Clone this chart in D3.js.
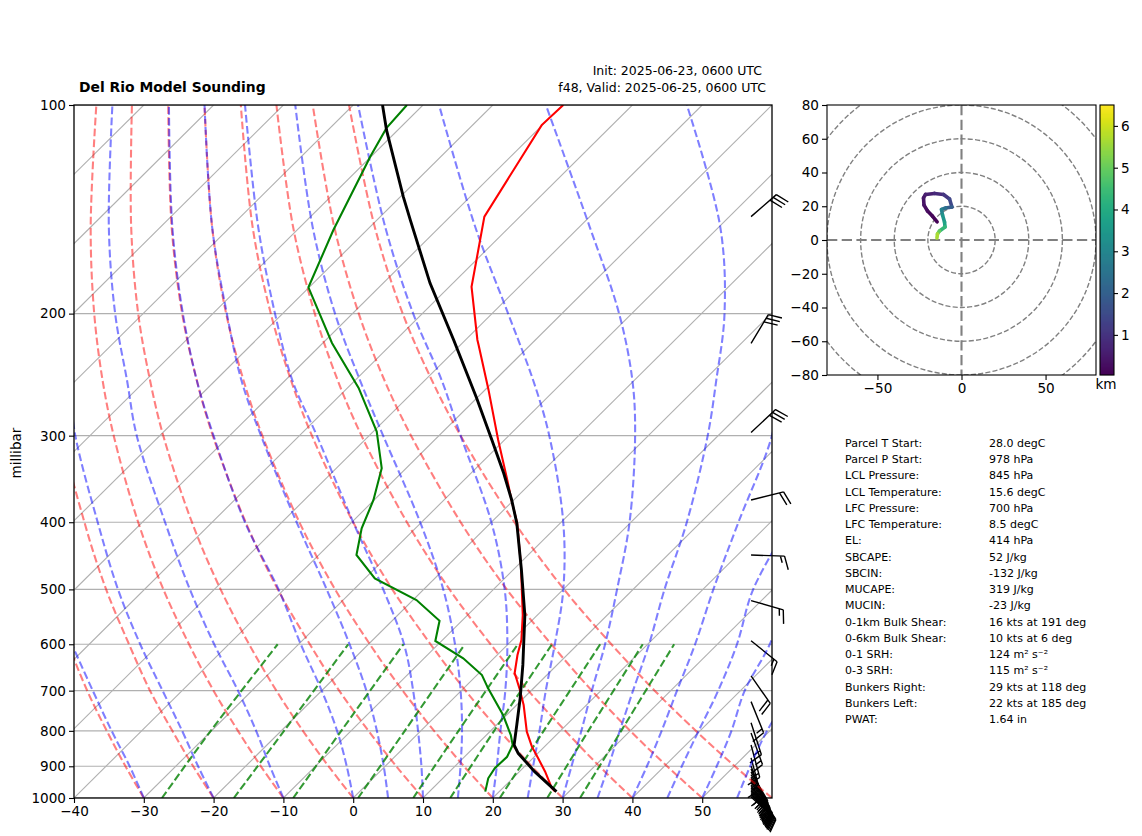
<!DOCTYPE html>
<html>
<head>
<meta charset="utf-8">
<script src="https://cdnjs.cloudflare.com/ajax/libs/d3/7.8.5/d3.min.js"></script>
<style>
  html, body { margin: 0; padding: 0; background: #fff; }
  svg { display: block; }
  text { font-family: "DejaVu Sans", sans-serif; fill: #000; }
  .tick text { font-size: 13.6px; }
  .tick line { stroke: #000; stroke-width: 1.1px; }
</style>
</head>
<body>
<div id="chart"></div>
<script>
const width = 1142, height = 836
const plot = { left: 74, right: 772, top: 105, bottom: 798 }
const hodo = { left: 827, right: 1096, top: 105, bottom: 375 }

// pressure levels used by the reference curve tables below
const levels = [1000, 900, 800, 700, 600, 500, 400, 300, 250, 200, 150, 100]

// dry adiabats, temperature (degC) at each level
const dryAdiabats = [
  [-30, -37.2, -45.0, -53.6, -63.0, -73.7],
  [-20, -27.5, -35.6, -44.6, -54.3, -65.5, -78.3, -93.7, -101],
  [-10, -17.8, -26.2, -35.5, -45.7, -57.3, -70.6, -86.6, -96.1, -107, -120, -136.8],
  [0, -8.1, -16.9, -26.5, -37.1, -49.1, -62.9, -79.5, -89.3, -100.7, -114.2, -131.7],
  [10, 1.6, -7.5, -17.5, -28.4, -40.9, -55.2, -72.4, -82.6, -94.4, -108.4, -126.5],
  [20, 11.3, 1.9, -8.4, -19.8, -32.7, -47.5, -65.3, -75.9, -88.1, -102.6, -121.3],
  [30, 21.0, 11.3, 0.6, -11.1, -24.5, -39.8, -58.2, -69.1, -81.7, -96.8, -116.1],
  [40, 30.7, 20.7, 9.6, -2.5, -16.3, -32.1, -51.1, -62.4, -75.4, -91, -111],
  [50, 40.4, 30.0, 18.7, 6.2, -8.1, -24.4, -44, -55.7, -69.1, -85.1, -105.8],
  [60, 50.1, 39.4, 27.7, 14.8, 0.1, -16.7, -36.9, -48.9, -62.8, -79.3, -100.6],
]

// moist adiabats, same layout
const moistAdiabats = [
  [-30, -36.6, -44.3, -52.8, -62.5],
  [-20, -26.8, -34.2, -42.8, -52.7, -63.8, -76.4, -92.1, -101],
  [-10, -16.5, -23.6, -32, -42.1, -53.5, -66.75, -83.3, -92.6, -104, -117.4, -134.5],
  [0, -5.5, -12, -20, -29.7, -40.8, -55.3, -72.3, -82.6, -94.3, -108.3, -126.4],
  [5, -0.2, -6.3, -13.6, -22.7, -33.9, -47.9, -65.5, -76.2, -88, -102.6, -121.3],
  [10, 5.2, -0.4, -6.9, -14.9, -25.8, -39.8, -57.5, -68.9, -81.1, -96, -115.5],
  [15, 10.8, 5.9, -0.1, -7.6, -17.2, -30.2, -48, -59.2, -72.5, -88.2, -108.3],
  [20, 16, 11.4, 6.3, -0.1, -8.4, -20, -36.9, -47.5, -61.3, -77.8, -99.3],
  [25, 21.2, 17, 12.1, 6.7, 0, -9.7, -24.2, -34.4, -47.7, -64.9, -87.7],
  [30, 26.7, 23, 18.7, 13.9, 7.7, -0.2, -11.9, -20.2, -31.8, -48.5, -72.4],
  [35, 32, 28.5, 24.6, 20.2, 14.5, 8, -1.5, -8.2, -16.7, -29.8, -52.2],
  [40, 37.5, 34.5, 30.9, 26.8, 21.5, 15.4, 7.7, 1],
  [45, 42.5, 39.8, 36.8, 32.8, 27.2, 22.8],
  [50, 47.5, 44.5, 40.6, 37.5, 32.5],
  [55, 52.3, 49.6, 47.4],
]

// mixing ratio lines: dewpoint at 1000, 800 and 600 hPa
const mixingLines = [
  [-27.4, -30.1, -33],
  [-17.1, -19.6, -22.9],
  [-8.6, -11.4, -15],
  [0.7, -2.3, -6.2],
  [8.6, 5.4, 1.4],
  [13.9, 10.5, 6.3],
  [21, 17.6, 13.2],
  [27.8, 24, 19.3],
  [32.5, 28.7, 23.8],
]

// sounding, [pressure, degC]
const temperature = [
  [979, 28], [967.3, 27], [916.2, 23.7], [875.4, 20.7], [843.3, 18.2], [802.2, 15.3],
  [734.2, 11], [698.5, 8.3], [660.2, 5.1], [621.8, 2.9], [591.6, 1.3], [544.6, -2.1],
  [461, -9.6], [448.5, -10.9], [401, -16.2], [375.2, -19.8], [343.8, -24.4], [304.3, -30.9],
  [257.7, -39.5], [222, -47.4], [218.3, -48.3], [183, -56.8], [144.9, -65.1], [106.9, -70.1], [100, -69.9],
]
const dewpoint = [
  [979, 18], [936.6, 16.5], [906, 16], [872, 16.1], [838.5, 15.2], [811.3, 13.5], [759.1, 9.5],
  [694.6, 3.5], [664.6, 0.7], [628.6, -4.4], [593.4, -10.9], [555, -13.2], [518, -19.5],
  [482, -28.6], [446, -34.6], [408.2, -37.7], [371.5, -40.1], [334.3, -43.5], [296, -49.5],
  [256, -58.4], [220.5, -68.7], [183.3, -80.1], [151.5, -84.8], [118.7, -90.1], [108, -91.9], [100, -92.3],
]
const parcel = [
  [979, 28.2], [916.2, 22.2], [862.1, 17.2], [838.5, 15.4], [784.6, 12.9], [717.4, 9.5],
  [642.6, 5.1], [544.6, -1.8], [468.8, -8.8], [401.4, -16.2], [371.5, -20.3], [339.9, -25.3],
  [304.3, -31.8], [264.9, -40], [218.3, -51.7], [180.7, -63.3], [146.6, -75.2], [135.6, -79.6],
  [108.7, -91.6], [100, -95.8],
]

// wind barbs, [pressure, from direction, knots]
const winds = [
  [144.9, 49, 30], [220.8, 31, 30], [296.8, 47, 30], [371.5, 76, 20], [446, 92, 15],
  [519, 106, 15], [593, 129, 15], [666.6, 145, 20], [726, 158, 15], [779, 162, 15],
  [806, 160, 15], [838.5, 165, 15], [875, 165, 15], [899, 160, 15], [908, 155, 20], [917, 150, 20],
  [925, 149, 20], [933, 148, 20], [939, 146, 20], [945, 145, 20], [951, 144, 20], [958, 143, 20],
  [962, 141, 20], [967, 140, 20], [972, 139, 20], [977, 138, 20], [982, 136, 20],
  [987, 135, 20], [992, 133, 20], [997, 132, 20],
]

// hodograph, [height km, u, v]
const hodograph = [
  [0.05, -14.5, 10.8], [0.1, -17.3, 14.2], [0.2, -20.2, 17.2], [0.3, -22.3, 20.7], [0.4, -22.6, 24.9],
  [0.5, -21.4, 27.0], [0.7, -16.1, 27.6], [0.9, -10.7, 27], [1.2, -7.1, 24.3], [1.7, -5.7, 19.6],
  [2.2, -9.5, 19], [2.7, -11.9, 18.1], [3.2, -11.3, 14.8], [3.6, -10.1, 10.7], [4.0, -9.8, 7.7],
  [4.7, -13.1, 5.3], [5.3, -14.3, 3.6], [6.0, -14.6, 1.2],
]

const stats = [
  ['Parcel T Start:', '28.0 degC'],
  ['Parcel P Start:', '978 hPa'],
  ['LCL Pressure:', '845 hPa'],
  ['LCL Temperature:', '15.6 degC'],
  ['LFC Pressure:', '700 hPa'],
  ['LFC Temperature:', '8.5 degC'],
  ['EL:', '414 hPa'],
  ['SBCAPE:', '52 J/kg'],
  ['SBCIN:', '-132 J/kg'],
  ['MUCAPE:', '319 J/kg'],
  ['MUCIN:', '-23 J/kg'],
  ['0-1km Bulk Shear:', '16 kts at 191 deg'],
  ['0-6km Bulk Shear:', '10 kts at 6 deg'],
  ['0-1 SRH:', '124 m² s⁻²'],
  ['0-3 SRH:', '115 m² s⁻²'],
  ['Bunkers Right:', '29 kts at 118 deg'],
  ['Bunkers Left:', '22 kts at 185 deg'],
  ['PWAT:', '1.64 in'],
]

const x = d3.scaleLinear().domain([-40, 60]).range([plot.left, plot.right])
const y = d3.scaleLog().domain([1000, 100]).range([plot.bottom, plot.top])
const skew = (plot.right - plot.left) / (plot.bottom - plot.top)
const skewX = (t, p) => x(t) + (y(1000) - y(p)) * skew

const svg = d3.select('#chart').append('svg').attr('width', width).attr('height', height)

svg.append('clipPath').attr('id', 'plot-clip').append('rect')
  .attr('x', plot.left).attr('y', plot.top)
  .attr('width', plot.right - plot.left).attr('height', plot.bottom - plot.top)

const main = svg.append('g').attr('clip-path', 'url(#plot-clip)')

// grid
main.selectAll('.hgrid').data(d3.range(100, 1001, 100)).join('line')
  .attr('x1', plot.left).attr('x2', plot.right)
  .attr('y1', d => y(d)).attr('y2', d => y(d))
  .attr('stroke', '#b0b0b0').attr('stroke-width', 1.1)
main.selectAll('.iso').data(d3.range(-130, 61, 10)).join('line')
  .attr('x1', d => skewX(d, 1000)).attr('y1', y(1000))
  .attr('x2', d => skewX(d, 100)).attr('y2', y(100))
  .attr('stroke', '#b0b0b0').attr('stroke-width', 1.1)

// barbs sit under the lines
const barbX = plot.left + 0.97 * (plot.right - plot.left)
const barbLen = 33.5
function barbPath(dir, speed) {
  const a = dir * Math.PI / 180
  const ux = Math.sin(a), uy = -Math.cos(a)
  const px = -uy, py = ux
  let d = `M0,0L${barbLen * ux},${barbLen * uy}`
  let pos = barbLen
  const h = 0.4 * barbLen, lean = 0.125 * barbLen
  let left = speed
  while (left >= 10) {
    d += `M${pos * ux},${pos * uy}l${h * px + lean * ux},${h * py + lean * uy}`
    pos -= 0.125 * barbLen
    left -= 10
  }
  if (left >= 5) {
    d += `M${pos * ux},${pos * uy}l${0.5 * (h * px + lean * ux)},${0.5 * (h * py + lean * uy)}`
  }
  return d
}
svg.append('g').selectAll('path').data(winds).join('path')
  .attr('transform', d => `translate(${barbX},${y(d[0])})`)
  .attr('d', d => barbPath(d[1], d[2]))
  .attr('fill', 'none').attr('stroke', '#000').attr('stroke-width', 1.4)

const main2 = svg.append('g').attr('clip-path', 'url(#plot-clip)')
const skewLine = d3.line().x(d => skewX(d[1], d[0])).y(d => y(d[0]))
const smoothLine = d3.line().x(d => skewX(d[1], d[0])).y(d => y(d[0])).curve(d3.curveCatmullRom.alpha(0.5))
const withLevels = row => row.map((t, i) => [levels[i], t])

main2.selectAll('.dry').data(dryAdiabats).join('path')
  .attr('d', d => smoothLine(withLevels(d)))
  .attr('fill', 'none').attr('stroke', '#ff0000').attr('stroke-opacity', 0.5)
  .attr('stroke-width', 2.08).attr('stroke-dasharray', '7.7,3.3')
main2.selectAll('.moist').data(moistAdiabats).join('path')
  .attr('d', d => smoothLine(withLevels(d)))
  .attr('fill', 'none').attr('stroke', '#0000ff').attr('stroke-opacity', 0.5)
  .attr('stroke-width', 2.08).attr('stroke-dasharray', '7.7,3.3')
main2.selectAll('.mix').data(mixingLines).join('path')
  .attr('d', d => smoothLine(d.map((t, i) => [[1000, 800, 600][i], t])))
  .attr('fill', 'none').attr('stroke', '#008000').attr('stroke-opacity', 0.8)
  .attr('stroke-width', 2.08).attr('stroke-dasharray', '7.7,3.3')

main2.append('path').attr('d', skewLine(temperature))
  .attr('fill', 'none').attr('stroke', '#ff0000').attr('stroke-width', 2.08)
main2.append('path').attr('d', skewLine(dewpoint))
  .attr('fill', 'none').attr('stroke', '#008000').attr('stroke-width', 2.08)
main2.append('path').attr('d', skewLine(parcel))
  .attr('fill', 'none').attr('stroke', '#000').attr('stroke-width', 2.9)

// axes
svg.append('rect')
  .attr('x', plot.left).attr('y', plot.top)
  .attr('width', plot.right - plot.left).attr('height', plot.bottom - plot.top)
  .attr('fill', 'none').attr('stroke', '#000').attr('stroke-width', 1.3)

const xAxis = d3.axisBottom(x).tickValues(d3.range(-40, 51, 10)).tickSize(5).tickPadding(3)
const yAxis = d3.axisLeft(y).tickValues(d3.range(100, 1001, 100)).tickFormat(d3.format('d')).tickSize(5).tickPadding(3)
const gx = svg.append('g').attr('transform', `translate(0,${plot.bottom})`).call(xAxis)
const gy = svg.append('g').attr('transform', `translate(${plot.left},0)`).call(yAxis)
gx.select('.domain').remove()
gy.select('.domain').remove()

svg.append('text').attr('transform', `translate(21,453) rotate(-90)`)
  .attr('text-anchor', 'middle').style('font-size', '13.6px').text('millibar')

svg.append('text').attr('x', 79).attr('y', 92)
  .style('font-size', '13.9px').style('font-weight', 'bold').text('Del Rio Model Sounding')
svg.append('text').attr('x', 762).attr('y', 75).attr('text-anchor', 'end')
  .style('font-size', '12.5px').text('Init: 2025-06-23, 0600 UTC')
svg.append('text').attr('x', 766).attr('y', 92).attr('text-anchor', 'end')
  .style('font-size', '12.5px').text('f48, Valid: 2025-06-25, 0600 UTC')

// hodograph
const hx = d3.scaleLinear().domain([-80, 80]).range([hodo.left, hodo.right])
const hy = d3.scaleLinear().domain([-80, 80]).range([hodo.bottom, hodo.top])
svg.append('clipPath').attr('id', 'hodo-clip').append('rect')
  .attr('x', hodo.left).attr('y', hodo.top)
  .attr('width', hodo.right - hodo.left).attr('height', hodo.bottom - hodo.top)
const hg = svg.append('g').attr('clip-path', 'url(#hodo-clip)')
hg.selectAll('ellipse').data([20, 40, 60, 80, 100]).join('ellipse')
  .attr('cx', hx(0)).attr('cy', hy(0))
  .attr('rx', d => hx(d) - hx(0)).attr('ry', d => hy(0) - hy(d))
  .attr('fill', 'none').attr('stroke', '#808080').attr('stroke-width', 1.39).attr('stroke-dasharray', '5.1,2.2')
hg.append('line').attr('x1', hodo.left).attr('x2', hodo.right).attr('y1', hy(0)).attr('y2', hy(0))
  .attr('stroke', '#808080').attr('stroke-width', 2.1).attr('stroke-dasharray', '10.3,4.4')
hg.append('line').attr('y1', hodo.top).attr('y2', hodo.bottom).attr('x1', hx(0)).attr('x2', hx(0))
  .attr('stroke', '#808080').attr('stroke-width', 2.1).attr('stroke-dasharray', '10.3,4.4')

const heightScale = d3.scaleSequential(d3.interpolateViridis).domain([0.04, 6.5])
hg.selectAll('.seg').data(d3.pairs(hodograph)).join('line')
  .attr('x1', d => hx(d[0][1])).attr('y1', d => hy(d[0][2]))
  .attr('x2', d => hx(d[1][1])).attr('y2', d => hy(d[1][2]))
  .attr('stroke', d => heightScale((d[0][0] + d[1][0]) / 2))
  .attr('stroke-width', 3.6).attr('stroke-linecap', 'round')

svg.append('rect')
  .attr('x', hodo.left).attr('y', hodo.top)
  .attr('width', hodo.right - hodo.left).attr('height', hodo.bottom - hodo.top)
  .attr('fill', 'none').attr('stroke', '#000').attr('stroke-width', 1.1)

const hgx = svg.append('g').attr('transform', `translate(0,${hodo.bottom})`)
  .call(d3.axisBottom(hx).tickValues([-50, 0, 50]).tickSize(5).tickPadding(3))
const hgy = svg.append('g').attr('transform', `translate(${hodo.left},0)`)
  .call(d3.axisLeft(hy).tickValues(d3.range(-80, 81, 20)).tickSize(5).tickPadding(3))
hgx.select('.domain').remove()
hgy.select('.domain').remove()

// colorbar
const cb = { left: 1100, right: 1114 }
const cbY = d3.scaleLinear().domain([0.04, 6.5]).range([hodo.bottom, hodo.top])
const cbSteps = d3.range(0, 270).map(i => cbY.invert(hodo.bottom - i - 0.5))
svg.append('g').selectAll('rect').data(cbSteps).join('rect')
  .attr('x', cb.left).attr('width', cb.right - cb.left)
  .attr('y', d => cbY(d) - 0.6).attr('height', 1.2)
  .attr('fill', d => heightScale(d))
svg.append('rect').attr('x', cb.left).attr('y', hodo.top)
  .attr('width', cb.right - cb.left).attr('height', hodo.bottom - hodo.top)
  .attr('fill', 'none').attr('stroke', '#000').attr('stroke-width', 1.1)
const cgy = svg.append('g').attr('transform', `translate(${cb.right},0)`)
  .call(d3.axisRight(cbY).tickValues([1, 2, 3, 4, 5, 6]).tickFormat(d3.format('d')).tickSize(4).tickPadding(3))
cgy.select('.domain').remove()
svg.selectAll('.tick text').style('font-family', '"DejaVu Sans", sans-serif')
svg.append('text').attr('x', 1106).attr('y', 389).attr('text-anchor', 'middle')
  .style('font-size', '13.6px').text('km')

// parcel / shear table
const rowY = d3.scaleLinear().domain([0, stats.length - 1]).range([447, 723])
const rows = svg.append('g').selectAll('g').data(stats).join('g')
  .attr('transform', (d, i) => `translate(0,${rowY(i)})`)
rows.append('text').attr('x', 845).style('font-size', '11px').text(d => d[0])
rows.append('text').attr('x', 989).style('font-size', '11px').text(d => d[1])
</script>
</body>
</html>
